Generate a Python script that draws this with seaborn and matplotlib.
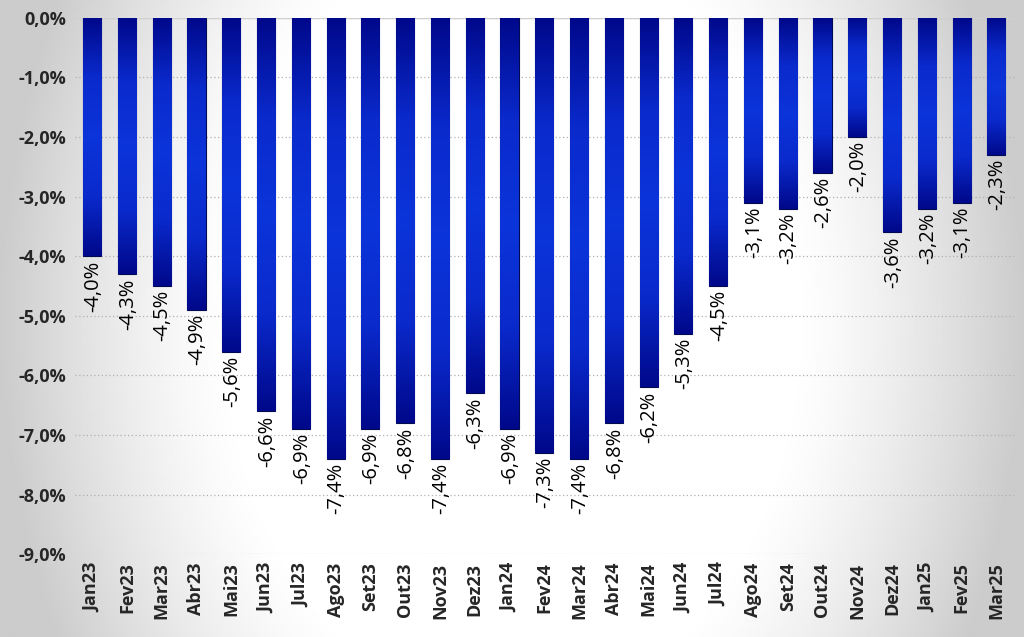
import numpy as np
import pandas as pd
import seaborn as sns
import matplotlib.pyplot as plt
from matplotlib.colors import LinearSegmentedColormap
from matplotlib.ticker import FuncFormatter

# Dados
meses = ['Jan23', 'Fev23', 'Mar23', 'Abr23', 'Mai23', 'Jun23', 'Jul23', 'Ago23', 'Set23',
         'Out23', 'Nov23', 'Dez23', 'Jan24', 'Fev24', 'Mar24', 'Abr24', 'Mai24', 'Jun24',
         'Jul24', 'Ago24', 'Set24', 'Out24', 'Nov24', 'Dez24', 'Jan25', 'Fev25', 'Mar25']
valores = [-4.0, -4.3, -4.5, -4.9, -5.6, -6.6, -6.9, -7.4, -6.9,
           -6.8, -7.4, -6.3, -6.9, -7.3, -7.4, -6.8, -6.2, -5.3,
           -4.5, -3.1, -3.2, -2.6, -2.0, -3.6, -3.2, -3.1, -2.3]
yticks = [0, -1, -2, -3, -4, -5, -6, -7, -8, -9]

df = pd.DataFrame({'mes': meses, 'valor': valores})

sns.set_style('white')
plt.rcParams['font.family'] = ['Open Sans', 'DejaVu Sans']

fig = plt.figure(figsize=(10.24, 6.37), dpi=100)

# fundo com vinheta cinza
bg = fig.add_axes([0, 0, 1, 1], zorder=-10)
xx, yy = np.meshgrid(np.linspace(-1, 1, 400), np.linspace(-1, 1, 250))
r = np.sqrt((xx / 1.0) ** 2 + (yy / 2.2) ** 2)
shade = np.clip((r - 0.55) / 0.45, 0, 1) ** 1.3
bg.imshow(1 - 0.2 * shade, cmap='gray', vmin=0, vmax=1, aspect='auto', extent=[0, 1, 0, 1])
bg.axis('off')

ax = fig.add_axes([0.073, 0.13, 0.917, 0.842])
ax.patch.set_alpha(0)

sns.barplot(data=df, x='mes', y='valor', color='#0a1eb4', width=0.52, ax=ax, zorder=3)

# gradiente nas barras
cmap = LinearSegmentedColormap.from_list('barra', ['#00088a', '#0a2acc', '#0b34da', '#0a2acc', '#00088a'])
grad = np.linspace(0, 1, 256).reshape(-1, 1)
for p in ax.patches:
    x0, w = p.get_x(), p.get_width()
    h = p.get_height()
    p.set_edgecolor('#000a50')
    p.set_linewidth(0.8)
    im = ax.imshow(grad, cmap=cmap, aspect='auto', extent=[x0, x0 + w, h, 0], zorder=4)
    im.set_clip_path(p)

# rótulos
for i, v in enumerate(valores):
    ax.text(i + 0.03, v - 0.07, f'{v:.1f}%'.replace('.', ','), rotation=90,
            ha='center', va='top', fontsize=14.5, color='black', zorder=5)

ax.set_ylim(-9, 0)
ax.set_xlim(-0.5, len(meses) - 0.5)
ax.set_yticks(yticks)
ax.yaxis.set_major_formatter(FuncFormatter(lambda y, _: f'{y:.1f}%'.replace('.', ',')))
ax.grid(axis='y', linestyle=(0, (1, 2)), color='#b0b0b0', linewidth=0.9, zorder=0)
ax.axhline(0, color='#d0d0d0', linewidth=1, zorder=1)
ax.set_xlabel('')
ax.set_ylabel('')
ax.tick_params(axis='x', labelrotation=90, labelsize=13, length=0, pad=6)
ax.tick_params(axis='y', labelsize=13, length=0, pad=6)
for lab in ax.get_xticklabels() + ax.get_yticklabels():
    lab.set_fontweight('bold')
sns.despine(ax=ax, left=True, bottom=True)

fig.savefig('out.png', dpi=100)
